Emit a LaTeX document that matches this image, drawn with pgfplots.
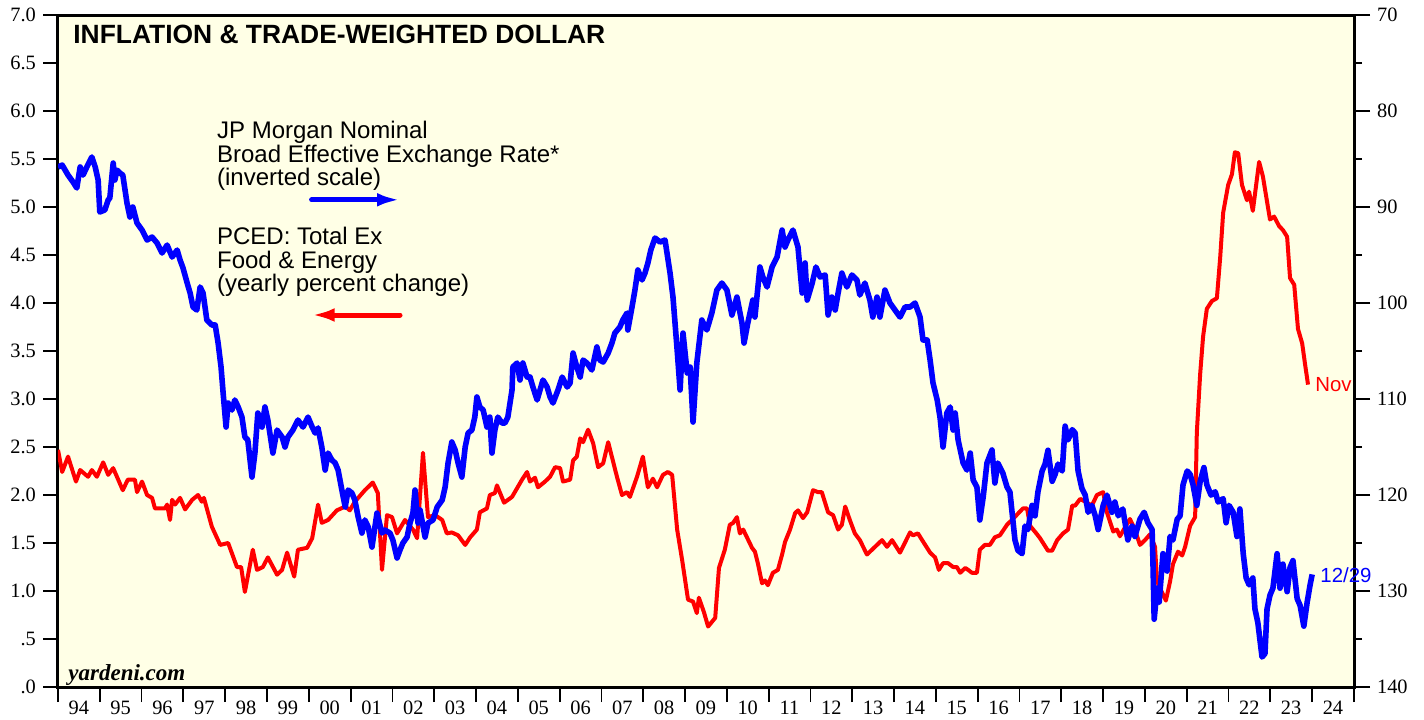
\documentclass[border=0pt]{standalone}
\usepackage{pgfplots}
\usepackage{pgfplotstable}
\pgfplotsset{compat=1.18}
\usepackage{fontspec}
\setmainfont{Liberation Serif}
\newfontfamily\arial{Liberation Sans}
\usetikzlibrary{arrows.meta}
\definecolor{bgyel}{RGB}{255,255,230}
\definecolor{cblue}{RGB}{0,0,255}
\definecolor{cred}{RGB}{255,0,0}

\pgfplotstableread{
t v
1994.00 2.47
1994.10 2.24
1994.24 2.40
1994.43 2.14
1994.53 2.26
1994.72 2.19
1994.81 2.26
1994.93 2.19
1995.08 2.34
1995.20 2.21
1995.32 2.28
1995.55 2.05
1995.67 2.16
1995.84 2.16
1995.89 2.03
1996.01 2.14
1996.13 2.00
1996.25 1.97
1996.32 1.86
1996.56 1.86
1996.61 1.90
1996.68 1.74
1996.73 1.95
1996.80 1.90
1996.92 1.97
1997.04 1.85
1997.21 1.95
1997.35 2.00
1997.44 1.93
1997.49 1.97
1997.68 1.67
1997.88 1.48
1998.07 1.50
1998.28 1.25
1998.38 1.25
1998.47 0.99
1998.66 1.43
1998.76 1.22
1998.90 1.25
1999.02 1.35
1999.24 1.17
1999.36 1.22
1999.48 1.40
1999.65 1.15
1999.74 1.43
1999.96 1.45
2000.08 1.55
2000.22 1.90
2000.31 1.71
2000.46 1.74
2000.67 1.84
2000.87 1.88
2000.98 1.84
2001.10 1.93
2001.34 2.05
2001.53 2.13
2001.65 2.02
2001.75 1.22
2001.87 1.79
2001.99 1.77
2002.11 1.60
2002.30 1.74
2002.49 1.64
2002.59 1.55
2002.73 2.44
2002.85 1.77
2003.02 1.79
2003.19 1.74
2003.30 1.60
2003.42 1.61
2003.57 1.58
2003.74 1.48
2003.86 1.56
2004.02 1.64
2004.09 1.82
2004.26 1.86
2004.33 2.00
2004.45 2.02
2004.50 2.10
2004.67 1.92
2004.86 1.98
2004.98 2.07
2005.10 2.16
2005.22 2.24
2005.29 2.14
2005.41 2.18
2005.48 2.08
2005.65 2.14
2005.77 2.19
2005.89 2.29
2006.01 2.28
2006.08 2.14
2006.25 2.16
2006.32 2.36
2006.41 2.40
2006.49 2.59
2006.56 2.55
2006.68 2.68
2006.80 2.54
2006.92 2.29
2007.04 2.33
2007.16 2.55
2007.37 2.19
2007.49 2.00
2007.61 2.03
2007.68 1.98
2007.85 2.19
2007.99 2.40
2008.11 2.08
2008.23 2.17
2008.33 2.08
2008.47 2.21
2008.59 2.24
2008.69 2.21
2008.81 1.64
2008.93 1.32
2009.07 0.91
2009.19 0.89
2009.28 0.77
2009.33 0.93
2009.45 0.78
2009.55 0.63
2009.72 0.72
2009.81 1.24
2009.95 1.43
2010.07 1.69
2010.15 1.71
2010.24 1.77
2010.31 1.60
2010.39 1.64
2010.60 1.45
2010.67 1.41
2010.74 1.29
2010.84 1.08
2010.91 1.11
2010.98 1.06
2011.10 1.19
2011.22 1.22
2011.32 1.38
2011.39 1.51
2011.51 1.64
2011.63 1.81
2011.70 1.84
2011.82 1.76
2011.92 1.82
2012.06 2.05
2012.18 2.03
2012.27 2.03
2012.42 1.82
2012.54 1.79
2012.66 1.64
2012.75 1.69
2012.83 1.88
2012.94 1.74
2013.06 1.60
2013.18 1.53
2013.35 1.38
2013.47 1.43
2013.59 1.48
2013.71 1.53
2013.83 1.46
2013.95 1.53
2014.14 1.40
2014.38 1.61
2014.45 1.58
2014.57 1.60
2014.67 1.53
2014.86 1.40
2014.98 1.35
2015.07 1.22
2015.17 1.29
2015.29 1.29
2015.41 1.25
2015.50 1.25
2015.58 1.19
2015.70 1.24
2015.77 1.22
2015.86 1.19
2015.98 1.19
2016.05 1.43
2016.17 1.48
2016.29 1.48
2016.41 1.56
2016.53 1.58
2016.70 1.69
2016.84 1.75
2017.08 1.86
2017.18 1.86
2017.25 1.68
2017.42 1.59
2017.49 1.55
2017.68 1.42
2017.78 1.42
2017.90 1.53
2018.04 1.60
2018.16 1.64
2018.26 1.89
2018.33 1.89
2018.45 1.96
2018.57 1.93
2018.73 1.89
2018.85 2.00
2019.00 2.03
2019.09 1.82
2019.24 1.62
2019.33 1.64
2019.40 1.57
2019.52 1.66
2019.64 1.75
2019.76 1.64
2019.88 1.48
2020.00 1.53
2020.12 1.59
2020.24 1.46
2020.29 1.10
2020.36 1.03
2020.50 0.90
2020.60 1.10
2020.67 1.28
2020.79 1.41
2020.89 1.37
2020.96 1.46
2021.08 1.68
2021.20 1.77
2021.24 2.65
2021.32 3.26
2021.39 3.65
2021.48 3.94
2021.60 4.02
2021.72 4.05
2021.80 4.48
2021.87 4.94
2021.99 5.23
2022.08 5.34
2022.15 5.57
2022.23 5.56
2022.32 5.23
2022.44 5.07
2022.49 5.16
2022.58 4.96
2022.73 5.47
2022.82 5.32
2022.99 4.87
2023.09 4.90
2023.21 4.80
2023.30 4.76
2023.40 4.69
2023.47 4.26
2023.57 4.19
2023.66 3.73
2023.76 3.58
2023.83 3.36
2023.90 3.15
}\pce

\pgfplotstableread{
t r
1994.00 85.83
1994.10 85.63
1994.24 86.67
1994.36 87.40
1994.45 88.02
1994.53 85.83
1994.60 86.67
1994.69 85.83
1994.81 84.79
1994.89 85.83
1994.96 87.19
1995.00 90.52
1995.12 90.31
1995.20 89.27
1995.24 89.06
1995.32 85.42
1995.36 87.19
1995.41 86.15
1995.48 86.46
1995.55 86.67
1995.65 89.58
1995.72 91.04
1995.79 90.00
1995.89 91.67
1996.01 92.40
1996.13 93.44
1996.25 93.13
1996.37 93.75
1996.49 94.79
1996.61 93.96
1996.73 95.21
1996.85 94.48
1996.92 95.52
1996.99 96.35
1997.09 97.92
1997.16 98.96
1997.23 100.42
1997.32 100.73
1997.40 98.33
1997.47 98.96
1997.56 101.77
1997.68 102.29
1997.76 102.29
1997.83 104.17
1997.90 106.67
1997.95 109.38
1998.02 112.92
1998.07 110.42
1998.16 111.15
1998.23 110.10
1998.31 110.83
1998.40 111.88
1998.47 113.96
1998.54 114.27
1998.64 118.13
1998.71 115.63
1998.78 111.46
1998.88 112.92
1998.95 110.83
1999.02 112.19
1999.14 115.63
1999.24 113.23
1999.36 113.96
1999.43 115.00
1999.50 113.96
1999.62 113.23
1999.74 112.19
1999.86 112.92
1999.98 111.88
2000.08 112.92
2000.15 113.54
2000.22 113.02
2000.31 115.00
2000.39 117.40
2000.46 115.63
2000.55 116.35
2000.63 116.67
2000.70 117.40
2000.79 119.48
2000.87 121.25
2000.94 119.48
2001.03 119.79
2001.10 120.52
2001.18 122.29
2001.27 123.96
2001.34 122.60
2001.42 123.33
2001.51 125.42
2001.63 121.88
2001.75 123.96
2001.82 123.65
2001.94 123.96
2002.01 124.69
2002.11 126.56
2002.18 125.73
2002.25 125.00
2002.35 124.38
2002.42 122.92
2002.49 121.88
2002.54 119.48
2002.61 122.92
2002.66 121.56
2002.78 124.38
2002.85 122.92
2002.97 122.60
2003.07 121.25
2003.19 120.52
2003.26 119.17
2003.33 116.67
2003.42 114.48
2003.50 115.31
2003.57 116.67
2003.66 118.13
2003.74 115.00
2003.81 113.54
2003.90 113.23
2003.97 111.88
2004.02 109.79
2004.09 110.83
2004.17 111.15
2004.26 112.92
2004.33 111.88
2004.38 115.63
2004.45 113.23
2004.52 111.88
2004.62 112.50
2004.69 112.50
2004.76 111.88
2004.86 109.06
2004.88 106.67
2004.98 106.25
2005.05 108.02
2005.12 106.25
2005.22 107.71
2005.29 107.71
2005.36 108.75
2005.46 110.10
2005.53 109.06
2005.60 108.02
2005.70 108.75
2005.77 109.79
2005.84 110.42
2005.96 109.06
2006.06 107.71
2006.18 108.75
2006.25 108.33
2006.32 105.21
2006.41 106.67
2006.49 107.71
2006.56 105.94
2006.65 106.25
2006.77 106.98
2006.89 104.58
2006.96 105.94
2007.04 106.15
2007.16 105.21
2007.25 104.17
2007.32 103.13
2007.44 102.50
2007.51 101.77
2007.61 101.04
2007.63 102.81
2007.73 100.42
2007.80 98.65
2007.87 96.56
2007.97 97.60
2008.04 96.88
2008.11 95.83
2008.18 94.48
2008.28 93.23
2008.40 93.65
2008.52 93.44
2008.64 96.88
2008.71 99.38
2008.81 104.90
2008.88 109.06
2008.95 103.13
2009.05 107.29
2009.12 106.67
2009.19 112.40
2009.28 106.25
2009.40 101.77
2009.52 102.81
2009.64 101.04
2009.76 98.65
2009.88 97.92
2010.00 98.65
2010.12 101.25
2010.24 99.38
2010.36 102.08
2010.41 104.17
2010.50 102.08
2010.62 99.69
2010.67 101.46
2010.79 96.25
2010.86 97.29
2010.96 98.33
2011.08 96.25
2011.20 95.21
2011.32 92.40
2011.39 94.17
2011.46 93.44
2011.58 92.40
2011.70 94.17
2011.80 98.96
2011.87 95.83
2011.92 99.69
2012.04 97.92
2012.13 96.25
2012.23 97.29
2012.35 97.08
2012.42 101.25
2012.51 99.38
2012.59 100.73
2012.66 98.96
2012.75 96.88
2012.87 98.33
2012.99 97.08
2013.11 97.60
2013.18 99.17
2013.30 97.92
2013.42 99.69
2013.49 101.46
2013.59 99.38
2013.66 101.46
2013.78 98.65
2013.90 100.00
2014.02 100.73
2014.14 101.46
2014.26 100.42
2014.38 100.42
2014.50 100.00
2014.62 101.46
2014.69 103.85
2014.79 103.85
2014.86 105.94
2014.93 108.33
2015.03 110.10
2015.10 111.98
2015.17 115.00
2015.26 111.46
2015.34 110.83
2015.41 113.23
2015.46 111.46
2015.53 114.27
2015.65 116.67
2015.74 117.40
2015.82 115.63
2015.89 118.44
2015.98 119.17
2016.05 122.60
2016.13 120.21
2016.22 116.67
2016.34 115.31
2016.41 118.75
2016.48 116.67
2016.60 117.71
2016.70 119.17
2016.77 119.69
2016.89 124.68
2016.96 125.76
2017.06 126.11
2017.13 123.24
2017.20 123.60
2017.30 121.08
2017.37 122.17
2017.44 119.66
2017.54 117.50
2017.61 116.78
2017.68 115.34
2017.78 118.57
2017.85 117.85
2017.92 116.78
2018.02 117.50
2018.09 112.82
2018.16 114.26
2018.26 113.19
2018.33 113.54
2018.40 117.50
2018.49 119.29
2018.57 120.01
2018.64 121.80
2018.73 121.08
2018.81 122.17
2018.88 123.60
2019.00 121.08
2019.09 120.01
2019.21 121.80
2019.28 120.73
2019.36 122.17
2019.47 121.45
2019.59 124.68
2019.69 123.24
2019.76 124.32
2019.88 122.52
2019.98 121.80
2020.07 122.89
2020.17 123.60
2020.19 126.83
2020.22 132.94
2020.29 129.71
2020.34 131.15
2020.43 126.11
2020.53 127.92
2020.60 124.32
2020.67 124.68
2020.77 122.52
2020.84 122.17
2020.91 118.94
2021.01 117.50
2021.08 117.85
2021.15 118.94
2021.24 121.08
2021.32 118.57
2021.41 117.14
2021.48 118.94
2021.58 120.01
2021.68 119.66
2021.75 120.73
2021.87 120.38
2021.94 122.89
2022.01 121.08
2022.11 121.80
2022.20 124.32
2022.27 121.45
2022.35 126.11
2022.42 128.64
2022.49 129.35
2022.58 128.64
2022.63 131.86
2022.70 133.30
2022.80 136.88
2022.87 136.53
2022.92 131.86
2022.99 130.43
2023.06 129.71
2023.16 126.11
2023.23 129.71
2023.30 127.20
2023.40 130.07
2023.47 127.55
2023.54 126.83
2023.64 130.79
2023.71 131.50
2023.80 133.66
2023.88 131.15
2023.95 129.35
2024.00 128.27
}\usd

\begin{document}
\begin{tikzpicture}
\path[use as bounding box] (0pt,0pt) rectangle (712pt,359.5pt);
\begin{axis}[
  at={(29pt,16pt)}, anchor=south west,
  scale only axis, width=648pt, height=336pt,
  xmin=1994, xmax=2025, ymin=0, ymax=7,
  axis background/.style={fill=bgyel},
  axis line style={line width=1.5pt},
  tick pos=left, tick align=outside,
  major tick length=7.5pt,
  every tick/.style={black, line width=0.9pt},
  xtick={1994,...,2025},
  xticklabels={94,95,96,97,98,99,00,01,02,03,04,05,06,07,08,09,10,11,12,13,14,15,16,17,18,19,20,21,22,23,24,{}},
  xticklabel style={xshift=10.45pt, yshift=4pt},
  ytick={0,0.5,...,7},
  yticklabels={.0,.5,1.0,1.5,2.0,2.5,3.0,3.5,4.0,4.5,5.0,5.5,6.0,6.5,7.0},
  tick label style={font=\fontsize{10.2}{12}\selectfont},
]
\addplot[cred, line width=2pt, line join=round] table[x=t,y=v]{\pce};
\end{axis}
\begin{axis}[
  at={(29pt,16pt)}, anchor=south west,
  scale only axis, width=648pt, height=336pt,
  xmin=1994, xmax=2025, ymin=70, ymax=140, y dir=reverse,
  axis x line=none, axis y line*=right,
  axis line style={line width=1.5pt, -},
  tick align=outside,
  major tick length=8pt, minor tick length=4pt,
  every tick/.style={black, line width=0.9pt},
  ytick={70,80,...,140}, minor ytick={75,85,...,135},
  yticklabels={70,80,90,100,110,120,130,140},
  tick label style={font=\fontsize{10.2}{12}\selectfont},
]
\addplot[cblue, line width=2.8pt, line join=round] table[x=t,y=r]{\usd};
\end{axis}
\node[anchor=base west, inner sep=0, font=\arial\bfseries\fontsize{13.2}{15}\selectfont] at (36.5pt,337.5pt) {INFLATION \& TRADE-WEIGHTED DOLLAR};
\begin{scope}[every node/.style={anchor=base west, inner sep=0, font=\arial\fontsize{12}{14}\selectfont}]
\node at (108.35pt,290.35pt) {JP Morgan Nominal};
\node at (108.35pt,278.15pt) {Broad Effective Exchange Rate*};
\node at (108.35pt,266.5pt) {(inverted scale)};
\node at (108.35pt,237.35pt) {PCED: Total Ex};
\node at (108.35pt,225.35pt) {Food \& Energy};
\node at (108.35pt,213.65pt) {(yearly percent change)};
\end{scope}
\draw[cblue, line width=2.5pt, line cap=round, -{Latex[length=11.5pt,width=6.8pt]}] (155.8pt,259.6pt) -- (200pt,259.6pt);
\draw[cred, line width=2.5pt, line cap=round, -{Latex[length=11.5pt,width=6.8pt]}] (200pt,202pt) -- (155.8pt,202pt);
\node[anchor=base west, inner sep=0, text=cred, font=\arial\fontsize{10.2}{12}\selectfont] at (657.5pt,164pt) {Nov};
\node[anchor=base west, inner sep=0, text=cblue, font=\arial\fontsize{10.2}{12}\selectfont] at (660pt,68.5pt) {12/29};
\node[anchor=base west, inner sep=0, font=\bfseries\itshape\fontsize{11.5}{13}\selectfont] at (34pt,19.5pt) {yardeni.com};
\end{tikzpicture}
\end{document}
